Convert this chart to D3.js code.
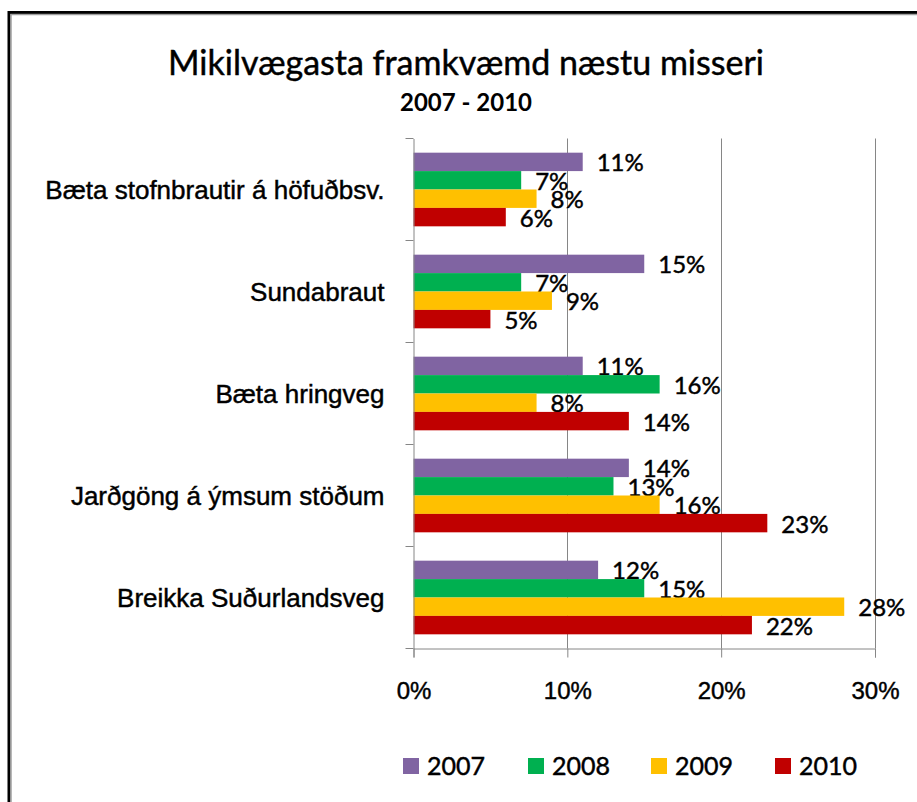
<!DOCTYPE html>
<html>
<head>
<meta charset="utf-8">
<script src="https://cdn.jsdelivr.net/npm/d3@7"></script>
<style>
  body { margin: 0; background: #fff; }
  svg { display: block; font-family: Lato, "Open Sans", sans-serif; }
  .heavy { stroke: #000; stroke-width: 0.45px; paint-order: stroke; }
</style>
</head>
<body>
<svg id="chart" width="917" height="802"></svg>
<script>
const categories = [
  "Bæta stofnbrautir á höfuðbsv.",
  "Sundabraut",
  "Bæta hringveg",
  "Jarðgöng á ýmsum stöðum",
  "Breikka Suðurlandsveg"
];
const years = ["2007", "2008", "2009", "2010"];
const values2007 = [11, 15, 11, 14, 12];
const values2008 = [7, 7, 16, 13, 15];
const values2009 = [8, 9, 8, 16, 28];
const values2010 = [6, 5, 14, 23, 22];
const xTicks = [0, 10, 20, 30];
const colors = ["#8064A2", "#00B050", "#FFC000", "#C00000"];

const seriesValues = [values2007, values2008, values2009, values2010];

const svg = d3.select("#chart");

// frame (runs off the right and bottom edges)
svg.append("rect").attr("x", 9).attr("y", 12.5).attr("width", 1000).attr("height", 1000)
  .attr("fill", "none").attr("stroke", "#000").attr("stroke-width", 3);
svg.append("rect").attr("x", 11).attr("y", 14.5).attr("width", 1000).attr("height", 1000)
  .attr("fill", "none").attr("stroke", "#a0a0a0").attr("stroke-width", 1.5);

// titles
svg.append("text").attr("x", 466).attr("y", 75).attr("text-anchor", "middle")
  .attr("font-size", 34).attr("class", "heavy").text("Mikilvægasta framkvæmd næstu misseri");
svg.append("text").attr("x", 466).attr("y", 111).attr("text-anchor", "middle")
  .attr("font-size", 24).attr("font-weight", "bold").text("2007 - 2010");

const x = d3.scaleLinear().domain([0, 30]).range([413.5, 875]);
const y0 = d3.scaleBand().domain(categories).range([138.5, 648.5]);
const y1 = d3.scaleBand().domain(years).range([0, y0.bandwidth()]).paddingOuter(0.77);

// gridlines
svg.append("g").selectAll("line").data(xTicks.slice(1)).join("line")
  .attr("x1", d => Math.round(x(d)) + 0.5).attr("x2", d => Math.round(x(d)) + 0.5)
  .attr("y1", 138.5).attr("y2", 648.5)
  .attr("stroke", "#868686").attr("stroke-width", 1);

// bars
years.forEach((yr, i) => {
  const g = svg.append("g");
  g.selectAll("rect").data(categories).join("rect")
    .attr("x", x(0))
    .attr("y", c => y0(c) + y1(yr))
    .attr("width", (c, j) => x(seriesValues[i][j]) - x(0))
    .attr("height", y1.bandwidth())
    .attr("fill", colors[i]);
  g.selectAll("text").data(categories).join("text")
    .attr("class", "heavy")
    .attr("x", (c, j) => x(seriesValues[i][j]) + 14)
    .attr("y", c => y0(c) + y1(yr) + y1.bandwidth() / 2 + 1)
    .attr("dy", "0.35em")
    .attr("font-size", 24)
    .attr("fill", "#000")
    .text((c, j) => seriesValues[i][j] + "%");
});

// y axis
const yAxis = svg.append("g").attr("transform", "translate(413.5,0)")
  .call(d3.axisLeft(y0).tickSize(0).tickPadding(29));
yAxis.select(".domain").attr("stroke", "#868686");
yAxis.selectAll("text").attr("font-size", 26).attr("fill", "#000").attr("font-family", null)
  .attr("class", "heavy").attr("dy", "0.38em");
yAxis.selectAll(".sep").data(y0.domain().map(c => y0(c)).concat([648.5])).join("line")
  .attr("class", "sep")
  .attr("x1", -8).attr("x2", 0).attr("y1", d => d).attr("y2", d => d)
  .attr("stroke", "#868686");

// x axis
const xAxis = svg.append("g").attr("transform", "translate(0,648.5)")
  .call(d3.axisBottom(x).tickValues(xTicks).tickSize(9).tickPadding(24).tickFormat(d => d + "%"));
xAxis.select(".domain").attr("stroke", "#868686");
xAxis.selectAll(".tick line").attr("stroke", "#868686");
xAxis.selectAll("text").attr("font-size", 24).attr("fill", "#000").attr("font-family", null)
  .attr("class", "heavy");

// legend
const legendX = [403, 528, 651, 775];
const legend = svg.append("g").selectAll("g").data(years).join("g")
  .attr("transform", (d, i) => `translate(${legendX[i]},758)`);
legend.append("rect").attr("width", 16).attr("height", 16).attr("fill", (d, i) => colors[i]);
legend.append("text").attr("x", 24).attr("y", 8).attr("dy", "0.36em")
  .attr("font-size", 25).attr("class", "heavy").text(d => d);
</script>
</body>
</html>
